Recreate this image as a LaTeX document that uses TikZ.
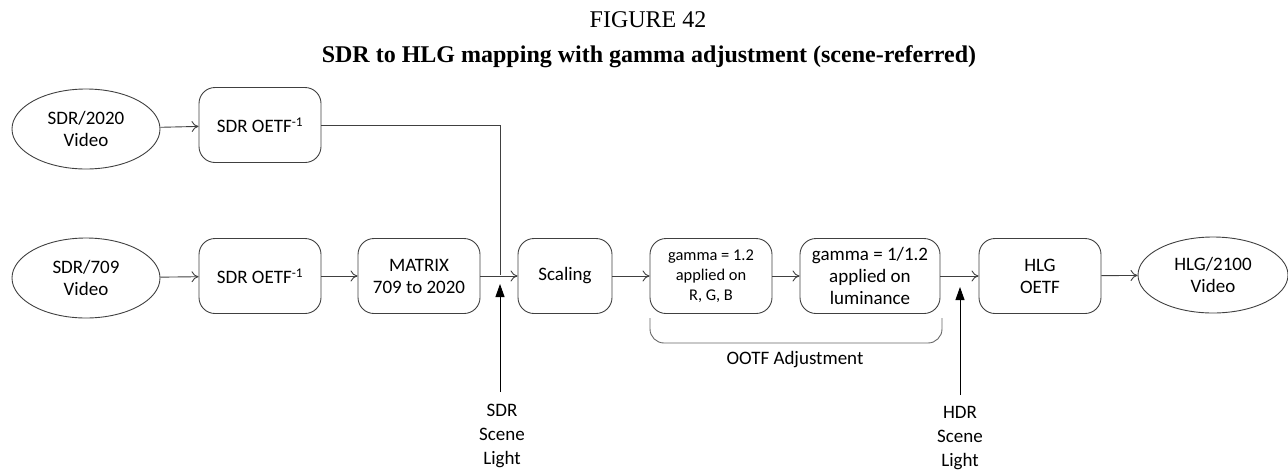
\documentclass[tikz,border=0pt]{standalone}
\usepackage{fontspec}
\setmainfont{Carlito}
\newfontfamily\titlefont{Liberation Serif}
\usetikzlibrary{arrows.meta,shapes.geometric}
\definecolor{ln}{HTML}{404040}
\tikzset{
  box/.style={draw=ln, line width=0.9pt, rounded corners=16pt, minimum width=122pt, minimum height=75pt, align=center, font=\fontsize{19}{22}\selectfont, inner sep=0pt},
  oval/.style={draw=ln, line width=0.9pt, ellipse, minimum width=148pt, minimum height=80pt, align=center, font=\fontsize{19}{22}\selectfont, inner sep=0pt},
  flow/.style={draw=ln, line width=0.9pt, -{To[length=7pt,width=11pt]}},
  light/.style={draw=black, line width=0.9pt, -{Triangle[length=13pt,width=9pt]}},
  lbl/.style={align=center, font=\fontsize{19}{24}\selectfont, inner sep=0pt},
}
\begin{document}
\begin{tikzpicture}[x=1pt,y=-1pt]
\useasboundingbox (0,0) rectangle (1288,472);
\node[font=\titlefont\fontsize{24}{26}\selectfont] (t1) at (648,20) {FIGURE 42};
\node[font=\titlefont\bfseries\fontsize{24}{26}\selectfont] (t2) at (649,57) {SDR to HLG mapping with gamma adjustment (scene-referred)};

\node[oval] (v2020) at (86,129) {SDR/2020\\Video};
\node[box] (o1) at (260,125) {SDR OETF\textsuperscript{-1}};
\node[oval] (v709) at (86,278) {SDR/709\\Video};
\node[box] (o2) at (260,276) {SDR OETF\textsuperscript{-1}};
\node[box] (mx) at (419,276) {MATRIX\\709 to 2020};
\node[box, minimum width=94pt] (sc) at (565,276) {Scaling};
\node[box, font=\fontsize{16.4}{20}\selectfont] (g1) at (711,276) {gamma = 1.2\\applied on\\R, G, B};
\node[box, minimum width=140pt] (g2) at (870,276) {gamma = 1/1.2\\applied on\\luminance};
\node[box] (hlg) at (1040,276) {HLG\\OETF};
\node[oval, minimum width=150pt, minimum height=76pt] (v2100) at (1213,275) {HLG/2100\\Video};

\coordinate (j) at (500,275);
\coordinate (k) at (960,275);

\draw[flow] (v2020) -- (o1);
\draw[flow] (v709) -- (o2);
\draw[flow] (o2) -- (mx);
\draw[flow] (mx.east) -- (sc.west);
\draw[line width=0.9pt, draw=ln] (o1.east) -- (500,125) -- (j);
\draw[flow] (sc) -- (g1);
\draw[flow] (g1) -- (g2);
\draw[flow] (g2.east) -- (hlg.west);
\draw[flow] (hlg) -- (v2100);

\node[lbl] (sdrl) at (502,436) {SDR\\Scene\\Light};
\node[lbl] (hdrl) at (960,438) {HDR\\Scene\\Light};
\draw[light] (500,392) -- (500,284);
\draw[light] (960,395) -- (960,287);

\draw[line width=0.9pt, draw=ln!80, rounded corners=14pt] (650,318) -- (650,343) -- (942,343) -- (942,318);
\node[lbl] (ootf) at (795,360) {OOTF Adjustment};
\end{tikzpicture}
\end{document}
